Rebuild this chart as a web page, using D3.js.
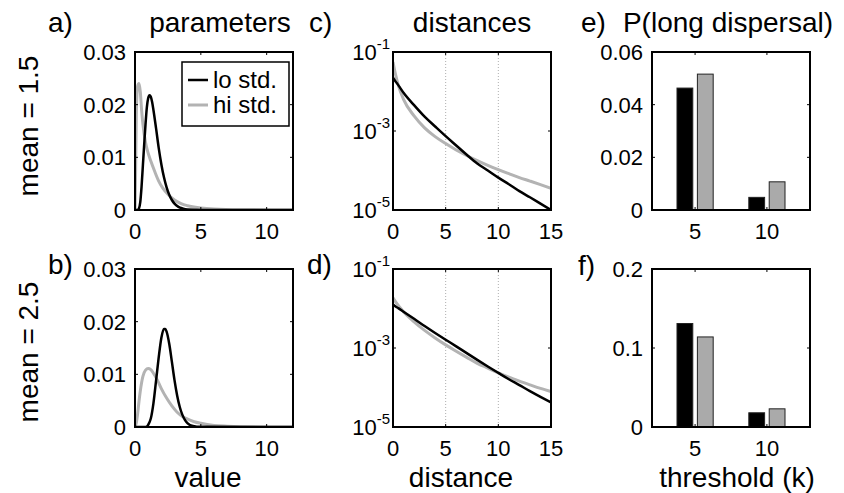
<!DOCTYPE html>
<html>
<head>
<meta charset="utf-8">
<script src="https://cdn.jsdelivr.net/npm/d3@7"></script>
<style>
  body { margin: 0; background: #fff; }
  text { font-family: "Liberation Sans", Arial, sans-serif; fill: #000; }
</style>
</head>
<body>
<script>
// parameter densities, mean = 1.5
const valueLoM15 = [0, 0.2, 0.3, 0.4, 0.5, 0.6, 0.7, 0.8, 0.9, 1.0, 1.1, 1.2, 1.3, 1.4, 1.6, 1.8, 2.0, 2.2, 2.4, 2.6, 2.8, 3.0, 3.3, 3.6, 4.0, 5, 12]
const densLoM15 = [0, 0, 0.0003, 0.0015, 0.0045, 0.0085, 0.0125, 0.0163, 0.0195, 0.0212, 0.0218, 0.0215, 0.0205, 0.019, 0.0155, 0.0118, 0.0087, 0.0062, 0.0043, 0.0029, 0.0019, 0.0012, 0.0006, 0.0003, 0.0001, 0.00002, 0]
const valueHiM15 = [0, 0.05, 0.1, 0.2, 0.3, 0.4, 0.5, 0.6, 0.8, 1.0, 1.2, 1.5, 1.8, 2.1, 2.5, 3.0, 3.5, 4, 5, 6, 8, 12]
const densHiM15 = [0, 0.008, 0.018, 0.0235, 0.024, 0.0225, 0.019, 0.0163, 0.0128, 0.0108, 0.0093, 0.0073, 0.0055, 0.0042, 0.003, 0.0019, 0.0012, 0.0008, 0.0004, 0.0002, 0.00006, 0.00001]

// parameter densities, mean = 2.5
const valueLoM25 = [0, 0.8, 1.0, 1.2, 1.4, 1.6, 1.8, 2.0, 2.2, 2.3, 2.4, 2.6, 2.8, 3.0, 3.2, 3.4, 3.6, 3.8, 4.0, 4.4, 5, 12]
const densLoM25 = [0, 0, 0.0004, 0.0016, 0.0045, 0.0088, 0.0132, 0.0169, 0.0186, 0.0186, 0.0181, 0.0158, 0.0124, 0.0089, 0.006, 0.0038, 0.0023, 0.0013, 0.0007, 0.0002, 0.00003, 0]
const valueHiM25 = [0, 0.1, 0.2, 0.3, 0.4, 0.5, 0.6, 0.8, 1.0, 1.2, 1.4, 1.7, 2.0, 2.4, 2.8, 3.2, 3.6, 4.0, 4.5, 5, 6, 7, 8, 10, 12]
const densHiM25 = [0, 0.0008, 0.0025, 0.0048, 0.0068, 0.0084, 0.0096, 0.0108, 0.0111, 0.0109, 0.0102, 0.0089, 0.0073, 0.0055, 0.004, 0.0028, 0.002, 0.0015, 0.001, 0.0007, 0.0003, 0.00015, 0.00007, 0.00002, 0.00001]

// dispersal distance densities (log scale)
const distGrid = [0, 0.25, 0.5, 1, 2, 3, 4, 5, 6, 7, 8, 9, 10, 11, 12, 13, 14, 15]
const distLoM15 = [0.0224, 0.0178, 0.0145, 0.0093, 0.0045, 0.0023, 0.0013, 0.00074, 0.00043, 0.00025, 0.00015, 0.0001, 0.000066, 0.000045, 0.00003, 0.000021, 0.0000145, 0.00001]
const distHiM15 = [0.056, 0.0263, 0.01445, 0.0063, 0.0024, 0.0012, 0.00072, 0.00048, 0.00033, 0.00024, 0.000178, 0.000135, 0.000105, 0.000083, 0.000066, 0.000054, 0.000044, 0.0000355]
const distLoM25 = [0.0126, 0.0112, 0.0102, 0.0083, 0.0055, 0.0036, 0.0024, 0.00162, 0.0011, 0.00074, 0.0005, 0.00034, 0.000234, 0.000162, 0.000115, 0.000081, 0.000058, 0.000042]
const distHiM25 = [0.0186, 0.0148, 0.012, 0.0083, 0.0046, 0.0028, 0.0018, 0.0012, 0.00083, 0.00058, 0.00041, 0.00031, 0.000234, 0.000182, 0.000145, 0.000117, 0.000095, 0.000079]

// P(long dispersal) per threshold
const thresholds = [5, 10]
const longLoM15 = [0.0463, 0.0048]
const longHiM15 = [0.0516, 0.0107]
const longLoM25 = [0.131, 0.018]
const longHiM25 = [0.114, 0.023]

const paramXTicks = [0, 5, 10]
const paramYTicks = [0, 0.01, 0.02, 0.03]
const paramYLabels = ['0', '0.01', '0.02', '0.03']
const distXTicks = [0, 5, 10, 15]
const distYTicks = [1e-5, 1e-3, 1e-1]
const distYExps = ['-5', '-3', '-1']
const longYTicksM15 = [0, 0.02, 0.04, 0.06]
const longYLabelsM15 = ['0', '0.02', '0.04', '0.06']
const longYTicksM25 = [0, 0.1, 0.2]
const longYLabelsM25 = ['0', '0.1', '0.2']

const LO = '#000'
const HI = '#b3b3b3'
const BAR_HI = '#aaaaaa'

const W = 844, H = 493
const colX = [135, 393, 652]
const rowY = [52, 269]
const PW = 158, PH = 158
const TICK_FS = 22, LABEL_FS = 28

const svg = d3.select('body').append('svg')
  .attr('width', W)
  .attr('height', H)

function panel (col, row) {
  return svg.append('g').attr('transform', 'translate(' + colX[col] + ',' + rowY[row] + ')')
}

// box with inward ticks on all four sides, MATLAB style
function frame (g, x, y, xTicks, yTicks) {
  var t = 3
  xTicks.forEach(v => {
    var px = x(v)
    g.append('line').attr('x1', px).attr('x2', px).attr('y1', PH).attr('y2', PH - t)
      .attr('stroke', '#000').attr('stroke-width', 1)
    g.append('line').attr('x1', px).attr('x2', px).attr('y1', 0).attr('y2', t)
      .attr('stroke', '#000').attr('stroke-width', 1)
  })
  yTicks.forEach(v => {
    var py = y(v)
    g.append('line').attr('x1', 0).attr('x2', t).attr('y1', py).attr('y2', py)
      .attr('stroke', '#000').attr('stroke-width', 1)
    g.append('line').attr('x1', PW).attr('x2', PW - t).attr('y1', py).attr('y2', py)
      .attr('stroke', '#000').attr('stroke-width', 1)
  })
  g.append('rect')
    .attr('x', 0).attr('y', 0)
    .attr('width', PW).attr('height', PH)
    .attr('fill', 'none')
    .attr('stroke', '#000')
    .attr('stroke-width', 2)
}

function xTickLabels (g, x, ticks) {
  ticks.forEach(v => {
    g.append('text')
      .attr('x', x(v)).attr('y', PH + 29)
      .attr('text-anchor', 'middle')
      .style('font-size', TICK_FS + 'px')
      .text(v)
  })
}

function yTickLabels (g, y, ticks, labels) {
  ticks.forEach((v, i) => {
    g.append('text')
      .attr('x', -9).attr('y', y(v) + 8)
      .attr('text-anchor', 'end')
      .style('font-size', TICK_FS + 'px')
      .text(labels[i])
  })
}

function curve (g, x, y, xs, ys, color, width) {
  var pts = xs.map((v, i) => [v, ys[i]])
  var line = d3.line()
    .x(d => x(d[0]))
    .y(d => y(d[1]))
    .curve(d3.curveMonotoneX)
  g.append('path')
    .datum(pts)
    .attr('d', line)
    .attr('fill', 'none')
    .attr('stroke', color)
    .attr('stroke-width', width)
    .attr('stroke-linejoin', 'round')
}

function paramPanel (row, xLo, yLo, xHi, yHi) {
  var g = panel(0, row)
  var x = d3.scaleLinear().domain([0, 12]).range([0, PW])
  var y = d3.scaleLinear().domain([0, 0.03]).range([PH, 0])
  var clip = 'clip-param-' + row
  g.append('clipPath').attr('id', clip).append('rect').attr('width', PW).attr('height', PH)
  var c = g.append('g').attr('clip-path', 'url(#' + clip + ')')
  curve(c, x, y, xHi, yHi, HI, 3)
  curve(c, x, y, xLo, yLo, LO, 2.5)
  frame(g, x, y, paramXTicks, paramYTicks)
  xTickLabels(g, x, paramXTicks)
  yTickLabels(g, y, paramYTicks, paramYLabels)
  return g
}

function distPanel (row, lo, hi) {
  var g = panel(1, row)
  var x = d3.scaleLinear().domain([0, 15]).range([0, PW])
  var y = d3.scaleLog().domain([1e-5, 1e-1]).range([PH, 0])
  ;[5, 10].forEach(v => {
    g.append('line')
      .attr('x1', x(v)).attr('x2', x(v))
      .attr('y1', 0).attr('y2', PH)
      .attr('stroke', '#999')
      .attr('stroke-width', 0.8)
      .attr('stroke-dasharray', '1,2')
  })
  var clip = 'clip-dist-' + row
  g.append('clipPath').attr('id', clip).append('rect').attr('width', PW).attr('height', PH)
  var c = g.append('g').attr('clip-path', 'url(#' + clip + ')')
  curve(c, x, y, distGrid, hi, HI, 3)
  curve(c, x, y, distGrid, lo, LO, 2.5)
  frame(g, x, y, distXTicks, distYTicks)
  xTickLabels(g, x, distXTicks)
  distYTicks.forEach((v, i) => {
    var t = g.append('text')
      .attr('x', -3).attr('y', y(v) + 8)
      .attr('text-anchor', 'end')
      .style('font-size', TICK_FS + 'px')
    t.append('tspan').text('10')
    t.append('tspan').attr('dy', -11).style('font-size', '15px').text(distYExps[i])
  })
  return g
}

function longPanel (row, lo, hi, yMax, yTicks, yLabels) {
  var g = panel(2, row)
  var x = d3.scaleLinear().domain([2, 13]).range([0, PW])
  var y = d3.scaleLinear().domain([0, yMax]).range([PH, 0])
  var bw = 1.1, off = 0.71
  thresholds.forEach((k, i) => {
    g.append('rect')
      .attr('x', x(k - off - bw / 2)).attr('y', y(lo[i]))
      .attr('width', x(bw) - x(0)).attr('height', y(0) - y(lo[i]))
      .attr('fill', LO).attr('stroke', '#222').attr('stroke-width', 1)
    g.append('rect')
      .attr('x', x(k + off - bw / 2)).attr('y', y(hi[i]))
      .attr('width', x(bw) - x(0)).attr('height', y(0) - y(hi[i]))
      .attr('fill', BAR_HI).attr('stroke', '#222').attr('stroke-width', 1)
  })
  frame(g, x, y, thresholds, yTicks)
  xTickLabels(g, x, thresholds)
  yTickLabels(g, y, yTicks, yLabels)
  return g
}

var ga = paramPanel(0, valueLoM15, densLoM15, valueHiM15, densHiM15)
paramPanel(1, valueLoM25, densLoM25, valueHiM25, densHiM25)
distPanel(0, distLoM15, distHiM15)
distPanel(1, distLoM25, distHiM25)
longPanel(0, longLoM15, longHiM15, 0.06, longYTicksM15, longYLabelsM15)
longPanel(1, longLoM25, longHiM25, 0.2, longYTicksM25, longYLabelsM25)

// legend in panel a
var leg = ga.append('g').attr('transform', 'translate(47,10)')
leg.append('rect').attr('width', 107).attr('height', 64)
  .attr('fill', '#fff').attr('stroke', '#000').attr('stroke-width', 1.5)
;[['lo std.', LO, 2.5], ['hi std.', HI, 3]].forEach((d, i) => {
  var yy = 18 + i * 25
  leg.append('line').attr('x1', 6).attr('x2', 26).attr('y1', yy).attr('y2', yy)
    .attr('stroke', d[1]).attr('stroke-width', d[2])
  leg.append('text').attr('x', 31).attr('y', yy + 8)
    .style('font-size', '24px').text(d[0])
})

// titles, panel letters, axis labels
function label (txt, x, y, size, anchor) {
  return svg.append('text')
    .attr('x', x).attr('y', y)
    .attr('text-anchor', anchor || 'start')
    .style('font-size', size + 'px')
    .text(txt)
}

label('parameters', 220, 32, LABEL_FS, 'middle')
label('distances', 472, 32, LABEL_FS, 'middle')
label('P(long dispersal)', 728, 32, LABEL_FS, 'middle')
label('a)', 48, 32, LABEL_FS)
label('c)', 309, 32, LABEL_FS)
label('e)', 581, 32, LABEL_FS)
label('b)', 48, 274, LABEL_FS)
label('d)', 307, 274, LABEL_FS)
label('f)', 578, 275, LABEL_FS)
label('value', 208, 487, LABEL_FS, 'middle')
label('distance', 461, 487, LABEL_FS, 'middle')
label('threshold (k)', 737, 487, LABEL_FS, 'middle')

;[['mean = 1.5', 126], ['mean = 2.5', 352]].forEach(d => {
  svg.append('text')
    .attr('transform', 'translate(38,' + d[1] + ') rotate(-90)')
    .attr('text-anchor', 'middle')
    .style('font-size', LABEL_FS + 'px')
    .text(d[0])
})
</script>
</body>
</html>
